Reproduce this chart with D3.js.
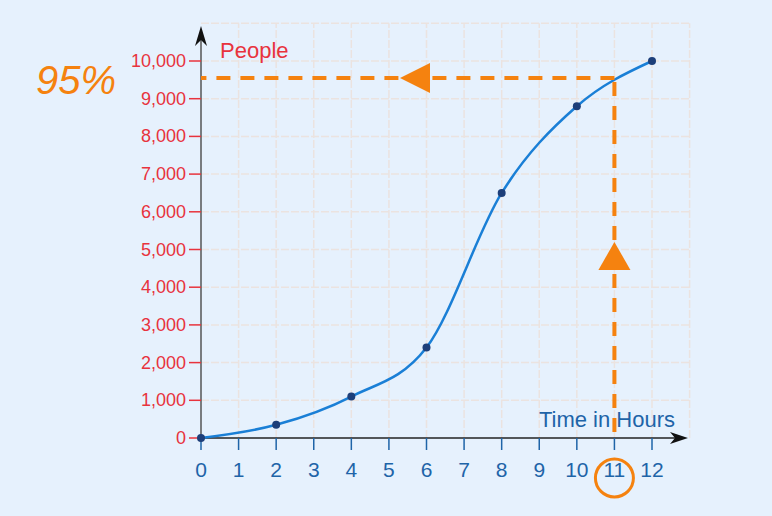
<!DOCTYPE html>
<html>
<head>
<script src="https://d3js.org/d3.v7.min.js"></script>
<style>
  body { margin:0; background:#e6f1fd; }
  text { font-family: Arial, "Liberation Sans", sans-serif; }
</style>
</head>
<body>
<svg id="chart" width="772" height="516"></svg>
<script>
var hours = [0, 2, 4, 6, 8, 10, 12];
var people = [0, 350, 1100, 2400, 6500, 8800, 10000];
var xTicks = [0,1,2,3,4,5,6,7,8,9,10,11,12];
var yTicks = [0,1000,2000,3000,4000,5000,6000,7000,8000,9000,10000];
var markHour = 11, markPeople = 9550;

var svg = d3.select("#chart");
var x = d3.scaleLinear().domain([0, 12]).range([201, 652]);
var y = d3.scaleLinear().domain([0, 10000]).range([438, 61]);

// grid
var grid = svg.append("g").attr("stroke", "#ebe3e0").attr("stroke-width", 1.5).attr("stroke-dasharray", "8,2");
d3.range(1, 14).forEach(function(h){
  grid.append("line").attr("x1", x(h)).attr("x2", x(h)).attr("y1", y(0)).attr("y2", y(11000));
});
d3.range(1000, 12000, 1000).forEach(function(p){
  grid.append("line").attr("x1", x(0)).attr("x2", x(13)).attr("y1", y(p)).attr("y2", y(p));
});

// x axis
svg.append("line").attr("x1", x(0)).attr("x2", 678).attr("y1", y(0)).attr("y2", y(0)).attr("stroke", "#222").attr("stroke-width", 1.5);
svg.append("path").attr("d", "M688," + y(0) + " L670," + (y(0)-6) + " L675," + y(0) + " L670," + (y(0)+6) + "Z").attr("fill", "#111");
xTicks.forEach(function(h){
  svg.append("line").attr("x1", x(h)).attr("x2", x(h)).attr("y1", y(0)).attr("y2", y(0)+12).attr("stroke", "#1e64a8").attr("stroke-width", 1.5);
  svg.append("text").attr("x", x(h)).attr("y", y(0)+39).attr("text-anchor", "middle").attr("font-size", 21).attr("fill", "#1e64a8").text(h);
});
svg.append("text").attr("x", 675).attr("y", 427).attr("text-anchor", "end").attr("font-size", 22).attr("fill", "#1e64a8").text("Time in Hours");

// y axis
svg.append("line").attr("x1", x(0)).attr("x2", x(0)).attr("y1", y(0)).attr("y2", 36).attr("stroke", "#555").attr("stroke-width", 1.5);
svg.append("path").attr("d", "M201,26 L195,46 L201,40 L207,46Z").attr("fill", "#111");
yTicks.forEach(function(p){
  svg.append("line").attr("x1", x(0)-12).attr("x2", x(0)).attr("y1", y(p)).attr("y2", y(p)).attr("stroke", "#e8333d").attr("stroke-width", 1.5);
  svg.append("text").attr("x", x(0)-15).attr("y", y(p)+6).attr("text-anchor", "end").attr("font-size", 18).attr("fill", "#e8333d").text(d3.format(",")(p));
});
svg.append("text").attr("x", 220).attr("y", 58).attr("font-size", 22).attr("fill", "#e8333d").text("People");

// curve
var pts = hours.map(function(h, i){ return [x(h), y(people[i])]; });
svg.append("path").attr("d", d3.line().curve(d3.curveMonotoneX)(pts))
  .attr("fill", "none").attr("stroke", "#1a7fd6").attr("stroke-width", 2.5);
svg.selectAll("circle.pt").data(pts).enter().append("circle").attr("class", "pt")
  .attr("cx", function(d){ return d[0]; }).attr("cy", function(d){ return d[1]; }).attr("r", 4).attr("fill", "#1d3f7a");

// 95% marker
var orange = "#f5820f";
svg.append("line").attr("x1", x(markHour)).attr("x2", x(markHour)).attr("y1", 432).attr("y2", y(markPeople))
  .attr("stroke", orange).attr("stroke-width", 4).attr("stroke-dasharray", "14,10");
svg.append("line").attr("x1", x(markHour)).attr("x2", x(0)).attr("y1", y(markPeople)).attr("y2", y(markPeople))
  .attr("stroke", orange).attr("stroke-width", 4).attr("stroke-dasharray", "14,10");
var ax = x(markHour), ay = 258;
svg.append("path").attr("d", "M" + ax + "," + (ay-16) + " L" + (ax+16) + "," + (ay+12) + " L" + (ax-16) + "," + (ay+12) + "Z").attr("fill", orange);
var hx = 400, hy = y(markPeople);
svg.append("path").attr("d", "M" + hx + "," + hy + " L" + (hx+30) + "," + (hy-15) + " L" + (hx+30) + "," + (hy+15) + "Z").attr("fill", orange);
svg.append("text").attr("x", 36).attr("y", 94).attr("font-size", 40).attr("font-style", "italic").attr("fill", orange).text("95%");
svg.append("circle").attr("cx", x(markHour)).attr("cy", 478).attr("r", 19).attr("fill", "none").attr("stroke", orange).attr("stroke-width", 3);
</script>
</body>
</html>
